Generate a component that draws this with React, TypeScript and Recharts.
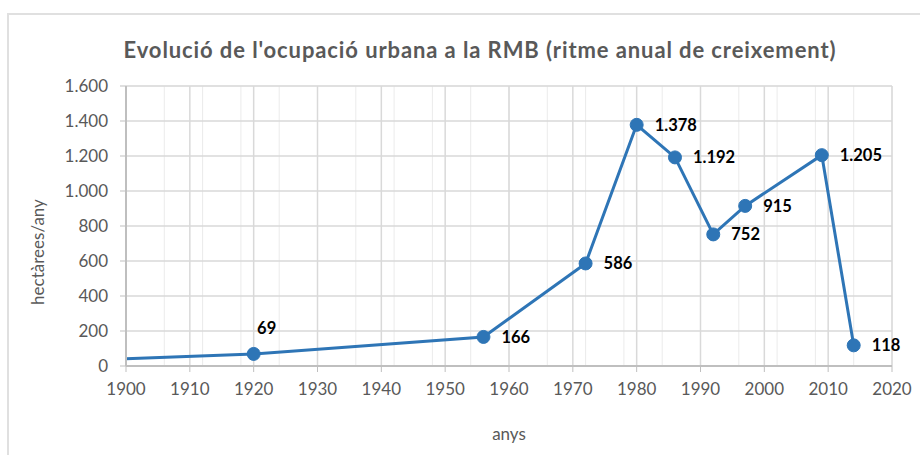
import { LineChart, Line, XAxis, YAxis, CartesianGrid, LabelList } from 'recharts';

// Evolució de l'ocupació urbana a la RMB — ritme anual de creixement (ha/any)
const years = [1900, 1920, 1956, 1972, 1980, 1986, 1992, 1997, 2009, 2014];
const hectares = [42, 69, 166, 586, 1378, 1192, 752, 915, 1205, 118];
const showMarker = [false, true, true, true, true, true, true, true, true, true];
const labelAbove = [false, true, false, false, false, false, false, false, false, false];

const xTicks = [1900, 1910, 1920, 1930, 1940, 1950, 1960, 1970, 1980, 1990, 2000, 2010, 2020];
const yTicks = [0, 200, 400, 600, 800, 1000, 1200, 1400, 1600];
const xMinorTicks = Array.from({ length: 61 }, (_, i) => 1900 + i * 2);
const yMinorTicks = Array.from({ length: 41 }, (_, i) => i * 40);

const data = years.map((year, i) => ({ year, ha: hectares[i], marker: showMarker[i], above: labelAbove[i] }));

const FONT = 'Lato, "Noto Sans", sans-serif';
const GREY_TEXT = '#595959';
const BLUE = '#2e75b6';

const fmt = (n: number) => String(n).replace(/\B(?=(\d{3})+(?!\d))/g, '.');

function Dot(props: any) {
  const { cx, cy, payload } = props;
  if (!payload?.marker) return null;
  return <circle cx={cx} cy={cy} r={6.5} fill={BLUE} stroke={BLUE} />;
}

function PointLabel(props: any) {
  const { x, y, value, index } = props;
  if (!data[index]?.marker) return null;
  const above = data[index].above;
  return (
    <text
      x={above ? x + 13 : x + 18}
      y={above ? y - 26 : y}
      dominantBaseline="central"
      textAnchor={above ? 'middle' : 'start'}
      fontFamily={FONT}
      fontWeight={700}
      fontSize={16.5}
      fill="#000"
    >
      {fmt(value)}
    </text>
  );
}

function YLabel(props: any) {
  const { viewBox } = props;
  const cx = viewBox.x + 37;
  const cy = viewBox.y + viewBox.height / 2 + 26;
  return (
    <text x={cx} y={cy} transform={`rotate(-90 ${cx} ${cy})`} textAnchor="middle" dominantBaseline="central" fontFamily={FONT} fontSize={17} fill={GREY_TEXT}>
      hectàrees/any
    </text>
  );
}

export default function App() {
  return (
    <div style={{ position: 'absolute', left: 0, top: 0, width: 920, height: 455, background: '#fff', overflow: 'hidden' }}>
      <div style={{ position: 'absolute', left: 7, top: 13, right: 0, bottom: -4, borderTop: '2px solid #e0e0e0', borderLeft: '2px solid #e0e0e0' }} />
      <div style={{ position: 'absolute', left: 0, width: 960, top: 36, textAlign: 'center', fontFamily: FONT, fontWeight: 700, fontSize: 22, letterSpacing: 0.9, color: GREY_TEXT }}>
        Evolució de l'ocupació urbana a la RMB (ritme anual de creixement)
      </div>
      <div style={{ position: 'absolute', left: 0, top: 0 }}>
        <LineChart width={920} height={455} data={data} margin={{ top: 86, right: 28, bottom: 19, left: 0 }}>
          <XAxis xAxisId="minor" type="number" dataKey="year" domain={[1900, 2020]} ticks={xMinorTicks} hide />
          <YAxis yAxisId="minor" type="number" domain={[0, 1600]} ticks={yMinorTicks} hide />
          <CartesianGrid xAxisId="minor" yAxisId="minor" stroke="#ebebeb" strokeWidth={1} />
          <CartesianGrid stroke="#d9d9d9" strokeWidth={1.5} />
          <XAxis
            type="number"
            dataKey="year"
            domain={[1900, 2020]}
            ticks={xTicks}
            interval={0}
            height={70}
            tickSize={6}
            tickMargin={11}
            axisLine={{ stroke: '#bfbfbf', strokeWidth: 2 }}
            tickLine={{ stroke: '#bfbfbf', strokeWidth: 1 }}
            tick={{ fill: GREY_TEXT, fontSize: 17, fontFamily: FONT }}
            label={{ value: 'anys', position: 'bottom', offset: -8, fill: GREY_TEXT, fontSize: 17, fontFamily: FONT }}
          />
          <YAxis
            type="number"
            domain={[0, 1600]}
            ticks={yTicks}
            interval={0}
            width={126}
            tickSize={6}
            tickMargin={12}
            tickFormatter={fmt}
            axisLine={{ stroke: '#bfbfbf', strokeWidth: 2 }}
            tickLine={{ stroke: '#bfbfbf', strokeWidth: 1 }}
            tick={{ fill: GREY_TEXT, fontSize: 17, fontFamily: FONT }}
            label={<YLabel />}
          />
          <Line type="linear" dataKey="ha" stroke={BLUE} strokeWidth={3} dot={<Dot />} activeDot={false} isAnimationActive={false}>
            <LabelList dataKey="ha" content={<PointLabel />} />
          </Line>
        </LineChart>
      </div>
    </div>
  );
}
